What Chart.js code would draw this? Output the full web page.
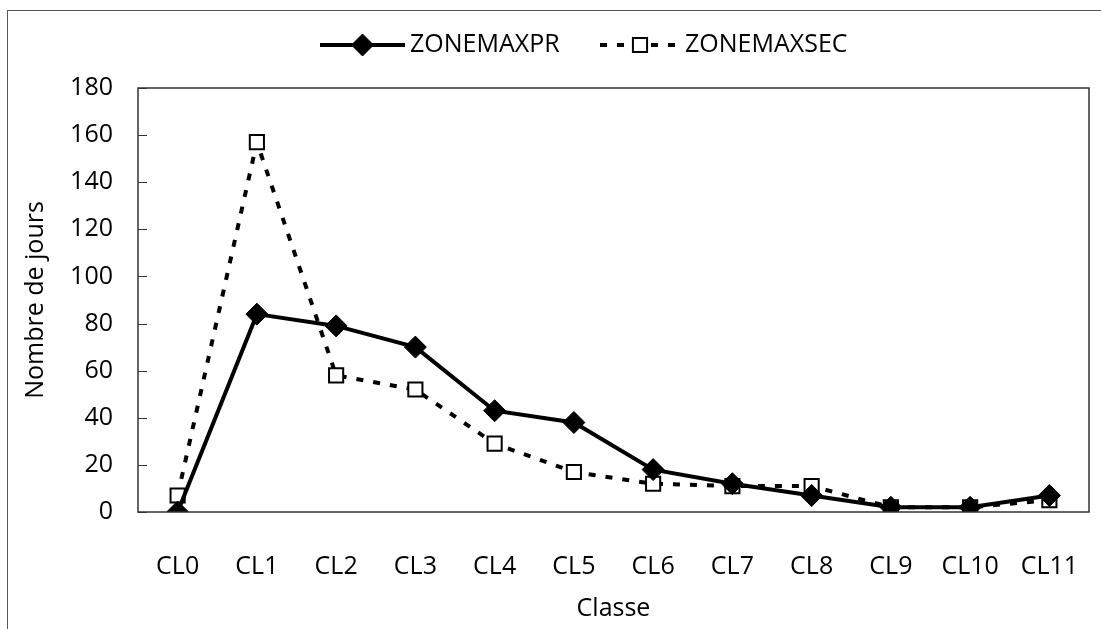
<!DOCTYPE html>
<html>
<head>
<meta charset="utf-8">
<script src="https://cdn.jsdelivr.net/npm/chart.js@4/dist/chart.umd.min.js"></script>
<style>
  html, body { margin: 0; padding: 0; background: #fff; overflow: hidden; }
  #wrap { position: relative; width: 1101px; height: 629px; }
  #frame { position: absolute; left: 7px; top: 10px; width: 1200px; height: 700px;
           border: 1px solid #555; box-sizing: border-box; pointer-events: none; }
  canvas { position: absolute; left: 0; top: 0; }
</style>
</head>
<body>
<div id="wrap">
  <canvas id="chart" width="1101" height="629"></canvas>
  <div id="frame"></div>
</div>
<script>
// Categories and series
const classes = ['CL0', 'CL1', 'CL2', 'CL3', 'CL4', 'CL5', 'CL6', 'CL7', 'CL8', 'CL9', 'CL10', 'CL11'];
const zoneMaxPr = [0, 84, 79, 70, 43, 38, 18, 12, 7, 2, 2, 7];
const zoneMaxSec = [7, 157, 58, 52, 29, 17, 12, 11, 11, 2, 2, 5];
const yTicks = [0, 20, 40, 60, 80, 100, 120, 140, 160, 180];

const FONT = "'Open Sans', 'DejaVu Sans', sans-serif";
const FONT_SIZE = 25;

// Frame around the plotting area plus inward tick marks on the value axis
const plotFrame = {
  id: 'plotFrame',
  afterDatasetsDraw(chart) {
    const { ctx, chartArea: a } = chart;
    const y = chart.scales.y;
    ctx.save();
    ctx.strokeStyle = '#333';
    ctx.lineWidth = 1.5;
    ctx.strokeRect(a.left, a.top, a.right - a.left, a.bottom - a.top);
    ctx.lineWidth = 1.2;
    ctx.beginPath();
    yTicks.forEach(v => {
      const py = Math.round(y.getPixelForValue(v)) + 0.5;
      ctx.moveTo(a.left, py);
      ctx.lineTo(a.left + 9, py);
    });
    ctx.stroke();
    ctx.restore();
  }
};

// Legend row: line sample with its marker, followed by the series name
const lineLegend = {
  id: 'lineLegend',
  afterDraw(chart) {
    const { ctx } = chart;
    const items = [
      { ds: chart.data.datasets[0], x0: 320, x1: 405, tx: 410 },
      { ds: chart.data.datasets[1], x0: 600, x1: 680, tx: 685 }
    ];
    const cy = 45;
    ctx.save();
    items.forEach(it => {
      const ds = it.ds;
      ctx.strokeStyle = ds.borderColor;
      ctx.lineWidth = ds.borderWidth;
      ctx.setLineDash(ds.borderDash || []);
      ctx.beginPath();
      ctx.moveTo(it.x0, cy);
      ctx.lineTo(it.x1, cy);
      ctx.stroke();
      ctx.setLineDash([]);
      ctx.fillStyle = ds.pointBackgroundColor;
      ctx.strokeStyle = ds.pointBorderColor;
      ctx.lineWidth = ds.pointBorderWidth;
      Chart.helpers.drawPoint(ctx, {
        pointStyle: ds.pointStyle, radius: ds.pointRadius, borderWidth: ds.pointBorderWidth, rotation: 0
      }, (it.x0 + it.x1) / 2, cy);
      ctx.fillStyle = '#000';
      ctx.font = FONT_SIZE + 'px ' + FONT;
      ctx.textAlign = 'left';
      ctx.textBaseline = 'middle';
      ctx.fillText(ds.label, it.tx, cy);
    });
    ctx.restore();
  }
};

new Chart(document.getElementById('chart'), {
  type: 'line',
  data: {
    labels: classes,
    datasets: [
      {
        label: 'ZONEMAXPR',
        data: zoneMaxPr,
        borderColor: '#000',
        borderWidth: 4,
        pointStyle: 'rectRot',
        pointRadius: 11,
        pointBackgroundColor: '#000',
        pointBorderColor: '#000',
        pointBorderWidth: 1,
        tension: 0
      },
      {
        label: 'ZONEMAXSEC',
        data: zoneMaxSec,
        borderColor: '#000',
        borderWidth: 4,
        borderDash: [7, 10],
        pointStyle: 'rect',
        pointRadius: 10,
        pointBackgroundColor: '#fff',
        pointBorderColor: '#000',
        pointBorderWidth: 2,
        tension: 0
      }
    ]
  },
  options: {
    responsive: false,
    animation: false,
    layout: { padding: { top: 88, left: 0, right: 9, bottom: 0 } },
    plugins: {
      legend: { display: false },
      tooltip: { enabled: false }
    },
    scales: {
      x: {
        offset: true,
        grid: { display: false, drawTicks: false },
        border: { display: false },
        ticks: { color: '#000', padding: 40, font: { family: FONT, size: FONT_SIZE } },
        title: {
          display: true, text: 'Classe', color: '#000',
          padding: { top: 0, bottom: 5 },
          font: { family: FONT, size: FONT_SIZE }
        },
        afterFit(scale) {
          scale.height = 117;
          scale.paddingLeft = 0;
          scale.paddingRight = 0;
        }
      },
      y: {
        min: 0,
        max: 180,
        grid: { display: false, drawTicks: false },
        border: { display: false },
        afterBuildTicks(scale) { scale.ticks = yTicks.map(v => ({ value: v })); },
        ticks: { color: '#000', padding: 25, font: { family: FONT, size: FONT_SIZE } },
        title: {
          display: true, text: 'Nombre de jours', color: '#000',
          padding: { top: 21, bottom: 0 },
          font: { family: FONT, size: FONT_SIZE }
        },
        afterFit(scale) {
          scale.width = 138;
          scale.paddingTop = 0;
          scale.paddingBottom = 0;
        }
      }
    }
  },
  plugins: [plotFrame, lineLegend]
});
</script>
</body>
</html>
